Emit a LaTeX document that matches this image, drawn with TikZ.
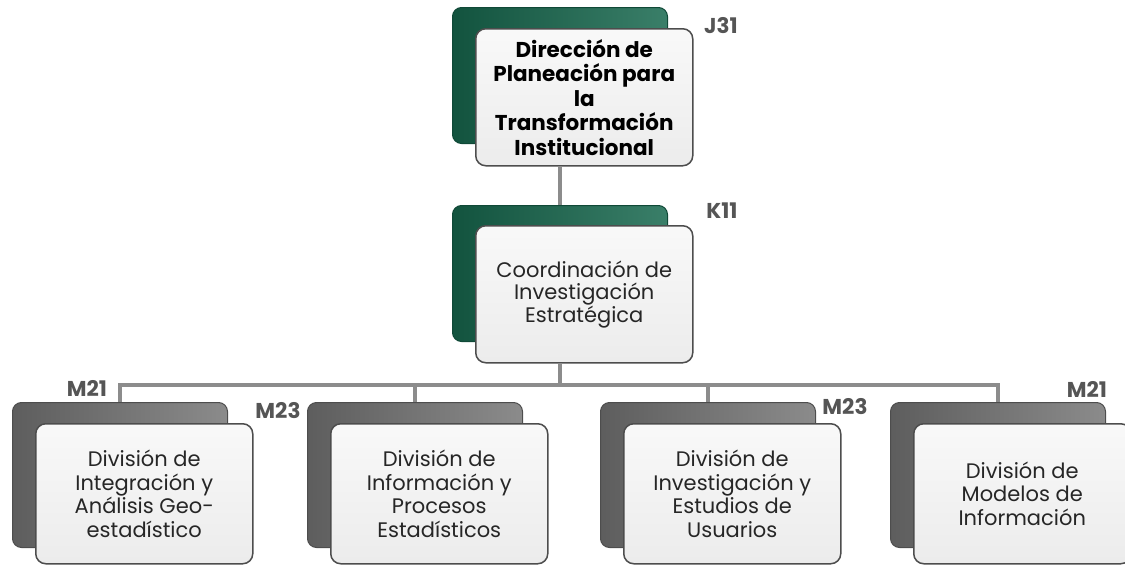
\documentclass[tikz,border=0pt]{standalone}
\usepackage{fontspec}
\setmainfont{Poppins}
\usetikzlibrary{calc}

\definecolor{deepgreen}{HTML}{17684E}
\definecolor{deepgray}{HTML}{6E6E6E}
\definecolor{codegray}{HTML}{555555}
\definecolor{linkgray}{HTML}{8C8C8C}
\definecolor{framegray}{HTML}{4D4D4D}

\tikzset{
  backbox/.style={rounded corners=9pt, minimum width=215pt, inner sep=0pt,
    anchor=north west, line width=1pt},
  greenback/.style={backbox, minimum height=136pt, draw=deepgreen!70!black,
    left color=deepgreen!80!black, right color=deepgreen!85!white},
  grayback/.style={backbox, minimum height=145pt, draw=deepgray!70!black,
    left color=deepgray!85!black, right color=deepgray!80!white},
  frontbox/.style={rounded corners=10pt, minimum width=217pt, minimum height=137pt,
    inner sep=2pt, anchor=north west, align=center, draw=framegray, line width=1.5pt,
    top color=white!95!gray, bottom color=gray!15, text=black!85,
    font=\fontsize{21}{23.5}\selectfont},
  codelabel/.style={text=codegray, font=\fontsize{21.5}{24}\selectfont\bfseries},
  link/.style={draw=linkgray, line width=4.5pt}
}

\begin{document}
\begin{tikzpicture}[x=1pt, y=-1pt]

\useasboundingbox (0,0) rectangle (1125,565);

% --- Top level ---
\node[greenback] (dirback) at (452,7) {};
\node[frontbox, font=\fontsize{21.5}{24.5}\selectfont\bfseries, text=black] (dirfront) at (475,28)
  {Dirección de\\Planeación para\\la\\Transformación\\Institucional};

% --- Second level ---
\node[greenback] (coordback) at (452,205) {};
\node[frontbox, font=\fontsize{21}{22}\selectfont] (coordfront) at (475,225)
  {Coordinación de\\Investigación\\Estratégica};

% --- Divisions ---
\foreach \i/\x/\txt in {
    1/12/{División de\\Integración y\\Análisis Geo-\\estadístico},
    2/307/{División de\\Información y\\Procesos\\Estadísticos},
    3/600/{División de\\Investigación y\\Estudios de\\Usuarios},
    4/890/{División de\\Modelos de\\Información}} {
  \node[grayback] (div\i back) at (\x,402) {};
  \node[frontbox, minimum height=140pt] (div\i front) at ($(\x,402)+(23,21)$) {\txt};
}

% --- Connectors ---
\coordinate (bus) at (560,385);
\path[link] (dirback |- dirfront.south) -- (coordback.north);
\path[link] (coordback |- coordfront.south) -- (bus);
\foreach \i in {1,...,4}
  \path[link] (bus) -| (div\i back.north);

% --- Codes ---
\node[codelabel] (lblJ) at (721,26) {J31};
\node[codelabel] (lblK) at (722,211) {K11};
\node[codelabel] (lbldiva) at (87,388) {M21};
\node[codelabel] (lbldivb) at (278,411) {M23};
\node[codelabel] (lbldivc) at (845,407) {M23};
\node[codelabel] (lbldivd) at (1087,389) {M21};

\end{tikzpicture}
\end{document}
